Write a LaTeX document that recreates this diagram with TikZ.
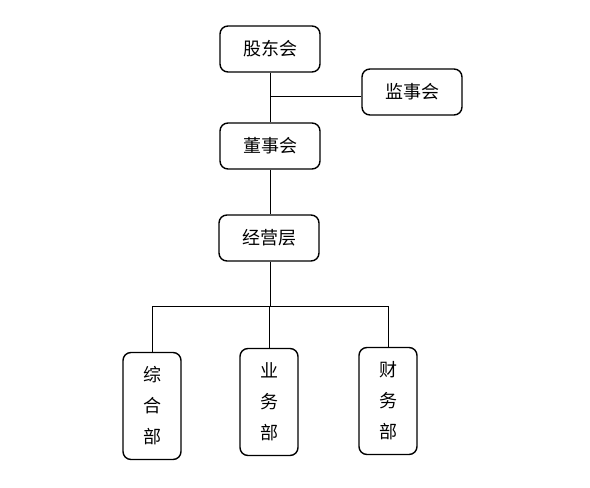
\documentclass[tikz,border=0pt]{standalone}
\usepackage{fontspec}
\newfontfamily\cjk{Noto Sans CJK SC}
\usepackage{tikz}
\usetikzlibrary{positioning}

\begin{document}
\begin{tikzpicture}[
  x=1pt,y=-1pt,
  every node/.style={font=\cjk\fontsize{18}{31}\selectfont},
  org/.style={draw,line width=1.4pt,rounded corners=8pt,minimum width=100pt,minimum height=46pt,align=center,inner sep=0pt},
  dept/.style={draw,line width=1.4pt,rounded corners=8pt,minimum width=58pt,minimum height=107pt,align=center,inner sep=0pt},
  link/.style={line width=0.8pt}
]
\useasboundingbox (0,0) rectangle (590,488);
\node[org] (gdh) at (270,49) {股东会};
\node[org] (jsh) at (412,92) {监事会};
\node[org] (dsh) at (270,146) {董事会};
\node[org] (jyc) at (269,238) {经营层};
\node[dept] (zhb) at (152,406) {综\\合\\部};
\node[dept] (ywb) at (269,402) {业\\务\\部};
\node[dept] (cwb) at (388,401) {财\\务\\部};
\coordinate (bus) at (270,306);
\draw[link] (gdh.south) -- (dsh.north);
\draw[link] ([yshift=-4pt]jsh.west) -- ([yshift=-4pt]jsh.west -| gdh.south);
\draw[link] (dsh.south) -- (dsh.south |- jyc.north);
\draw[link] (jyc.south -| bus) -- (bus);
\draw[link] (zhb.north |- bus) -- (cwb.north |- bus);
\draw[link] (zhb.north) -- (zhb.north |- bus);
\draw[link] (ywb.north) -- (ywb.north |- bus);
\draw[link] (cwb.north) -- (cwb.north |- bus);
\end{tikzpicture}
\end{document}
